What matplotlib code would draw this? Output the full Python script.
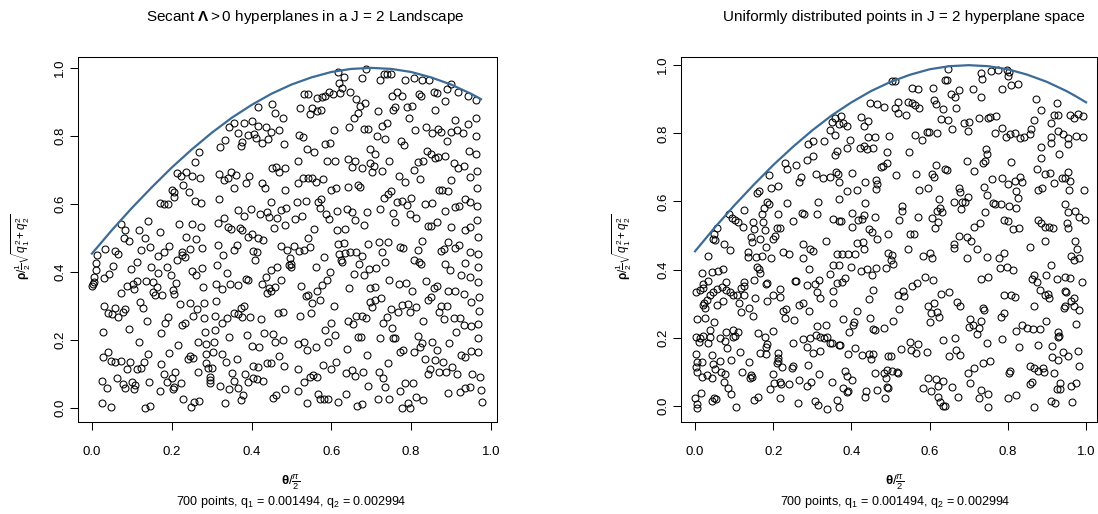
import numpy as np
import matplotlib
matplotlib.use("Agg")
import matplotlib.pyplot as plt

# -------------------------------------------------
# Data (theta/(pi/2), rho/(sqrt(q1^2+q2^2)/2))
# -------------------------------------------------
curve_x = [0.0, 0.05, 0.1, 0.15, 0.2, 0.25, 0.3, 0.35, 0.4, 0.45, 0.5,
           0.55, 0.6, 0.65, 0.7, 0.75, 0.8, 0.85, 0.9, 0.95, 0.975, 1.0]
curve_y = [0.454, 0.523, 0.588, 0.649, 0.707, 0.760, 0.809, 0.853, 0.891, 0.924, 0.951,
           0.972, 0.988, 0.997, 1.0, 0.997, 0.988, 0.972, 0.951, 0.924, 0.908, 0.891]
left_curve_end = 0.975

# left panel: secant hyperplanes
left_upper_a = [
    (0.417,0.886),(0.452,0.893),(0.459,0.867),(0.480,0.854),(0.357,0.837),(0.343,0.825),
    (0.382,0.839),(0.402,0.845),(0.415,0.830),(0.435,0.825),(0.469,0.818),(0.449,0.811),
    (0.367,0.808),(0.390,0.803),(0.407,0.806),(0.411,0.793),(0.427,0.778),(0.440,0.791),
    (0.377,0.781),(0.373,0.769),(0.333,0.788),(0.321,0.766),(0.482,0.775),(0.269,0.753),
    (0.258,0.723),(0.213,0.690),(0.235,0.695),(0.223,0.683),(0.250,0.683),(0.272,0.675),
    (0.318,0.688),(0.348,0.693),(0.332,0.671),(0.342,0.675),(0.362,0.685),(0.393,0.682),
    (0.385,0.661),(0.355,0.648),(0.425,0.662),(0.434,0.648),(0.452,0.707),(0.461,0.709),
    (0.469,0.695),(0.484,0.705),(0.229,0.656),(0.201,0.641),(0.206,0.636),(0.243,0.634),
    (0.205,0.620),(0.170,0.604),(0.181,0.600),(0.190,0.599),(0.258,0.609),(0.273,0.602),
    (0.318,0.615),(0.484,0.641),(0.449,0.607),(0.367,0.582),(0.398,0.585),(0.382,0.566),
    (0.421,0.570),(0.438,0.577),(0.444,0.561),(0.463,0.558),(0.474,0.582),(0.487,0.587),
    (0.141,0.550),(0.074,0.540),(0.084,0.524),(0.118,0.524),(0.170,0.519),(0.219,0.540),
    (0.250,0.540),(0.273,0.533),(0.317,0.545),(0.330,0.558),(0.340,0.533),(0.348,0.526),
    (0.370,0.528),(0.377,0.522),(0.400,0.512),(0.456,0.528),(0.485,0.538),
]
left_upper_b = [
    (0.617,0.989),(0.632,0.973),(0.687,0.997),(0.678,0.970),(0.731,0.982),(0.740,0.982),
    (0.749,0.982),(0.722,0.963),(0.784,0.963),(0.808,0.970),(0.826,0.963),(0.845,0.965),
    (0.899,0.952),(0.891,0.938),(0.918,0.930),(0.942,0.916),(0.962,0.906),(0.532,0.924),
    (0.541,0.923),(0.563,0.911),(0.576,0.914),(0.584,0.916),(0.594,0.930),(0.605,0.923),
    (0.619,0.955),(0.627,0.940),(0.621,0.925),(0.647,0.928),(0.663,0.908),(0.673,0.889),
    (0.684,0.898),(0.751,0.916),(0.765,0.928),(0.776,0.916),(0.820,0.923),(0.824,0.918),
    (0.857,0.930),(0.864,0.925),(0.885,0.904),(0.521,0.883),(0.552,0.883),(0.547,0.864),
    (0.565,0.874),(0.573,0.875),(0.656,0.854),(0.668,0.867),(0.718,0.872),(0.754,0.876),
    (0.759,0.884),(0.789,0.886),(0.801,0.889),(0.795,0.852),(0.860,0.875),(0.910,0.847),
    (0.943,0.834),(0.962,0.852),(0.606,0.818),(0.644,0.825),(0.681,0.821),(0.693,0.821),
    (0.726,0.829),(0.739,0.837),(0.715,0.800),(0.734,0.790),(0.810,0.818),(0.836,0.827),
    (0.851,0.808),(0.868,0.821),(0.876,0.811),(0.900,0.811),(0.916,0.816),(0.931,0.810),
    (0.963,0.800),(0.891,0.786),(0.519,0.803),(0.530,0.798),(0.775,0.785),(0.781,0.772),
    (0.538,0.762),(0.557,0.752),(0.584,0.775),(0.596,0.778),(0.697,0.761),(0.709,0.747),
    (0.840,0.756),(0.849,0.748),(0.860,0.734),(0.868,0.739),(0.886,0.742),(0.945,0.757),
    (0.963,0.748),(0.517,0.727),(0.590,0.727),(0.609,0.726),(0.642,0.731),(0.659,0.725),
    (0.652,0.710),(0.678,0.705),(0.697,0.720),(0.708,0.712),(0.703,0.695),(0.726,0.697),
    (0.744,0.725),(0.769,0.683),(0.784,0.666),(0.808,0.700),(0.816,0.723),(0.829,0.726),
    (0.908,0.720),(0.918,0.705),(0.933,0.713),(0.947,0.680),(0.964,0.697),(0.822,0.673),
    (0.517,0.663),(0.530,0.677),(0.542,0.677),(0.551,0.677),(0.561,0.666),(0.580,0.673),
    (0.599,0.641),(0.612,0.646),(0.641,0.650),(0.666,0.656),(0.672,0.650),(0.870,0.640),
    (0.878,0.640),(0.893,0.638),(0.901,0.671),(0.965,0.648),(0.514,0.606),(0.537,0.609),
    (0.566,0.607),(0.574,0.614),(0.571,0.589),(0.587,0.570),(0.613,0.579),(0.638,0.584),
    (0.651,0.577),(0.689,0.575),(0.722,0.584),(0.732,0.617),(0.741,0.628),(0.749,0.638),
    (0.765,0.607),(0.778,0.610),(0.800,0.617),(0.790,0.597),(0.835,0.600),(0.851,0.604),
    (0.886,0.580),(0.910,0.592),(0.920,0.594),(0.935,0.615),(0.947,0.607),(0.964,0.595),
    (0.510,0.555),(0.527,0.565),(0.556,0.526),(0.593,0.556),(0.659,0.553),(0.681,0.538),
    (0.613,0.524),(0.634,0.527),(0.755,0.573),(0.759,0.548),(0.797,0.570),(0.812,0.558),
    (0.841,0.536),(0.849,0.536),(0.864,0.548),(0.901,0.533),(0.935,0.524),(0.948,0.532),
    (0.964,0.553),
]
left_lower_a = [
    (0.081,0.499),(0.094,0.491),(0.133,0.501),(0.237,0.504),(0.262,0.497),(0.392,0.504),
    (0.417,0.499),(0.429,0.494),(0.033,0.468),(0.059,0.462),(0.066,0.452),(0.124,0.465),
    (0.145,0.472),(0.166,0.448),(0.181,0.460),(0.194,0.475),(0.225,0.460),(0.246,0.468),
    (0.277,0.470),(0.212,0.435),(0.226,0.450),(0.233,0.445),(0.315,0.479),(0.329,0.450),
    (0.363,0.479),(0.357,0.465),(0.404,0.462),(0.413,0.460),(0.409,0.435),(0.474,0.475),
    (0.490,0.465),(0.012,0.450),(0.009,0.425),(0.009,0.406),(0.006,0.386),(0.004,0.372),
    (0.001,0.360),(0.003,0.364),(0.031,0.383),(0.043,0.393),(0.052,0.419),(0.098,0.409),
    (0.114,0.430),(0.148,0.414),(0.187,0.415),(0.166,0.396),(0.198,0.391),(0.251,0.404),
    (0.277,0.411),(0.262,0.391),(0.314,0.421),(0.338,0.396),(0.385,0.378),(0.392,0.376),
    (0.450,0.406),(0.464,0.416),(0.435,0.386),(0.495,0.421),(0.089,0.360),(0.102,0.364),
    (0.112,0.374),(0.106,0.350),(0.135,0.374),(0.152,0.372),(0.162,0.357),(0.152,0.342),
    (0.158,0.332),(0.176,0.332),(0.204,0.347),(0.206,0.334),(0.211,0.367),(0.072,0.337),
    (0.279,0.357),(0.312,0.365),(0.327,0.350),(0.346,0.365),(0.365,0.362),(0.425,0.364),
    (0.444,0.352),(0.439,0.337),(0.459,0.357),(0.475,0.376),(0.450,0.344),(0.030,0.301),
    (0.041,0.278),(0.051,0.277),(0.059,0.295),(0.066,0.269),(0.077,0.283),(0.084,0.291),
    (0.121,0.313),(0.129,0.293),(0.137,0.256),(0.191,0.269),(0.183,0.249),(0.221,0.305),
    (0.245,0.308),(0.263,0.291),(0.281,0.308),(0.312,0.316),(0.254,0.272),(0.281,0.264),
    (0.308,0.271),(0.325,0.249),(0.338,0.266),(0.357,0.280),(0.367,0.276),(0.373,0.293),
    (0.382,0.300),(0.375,0.269),(0.396,0.269),(0.423,0.261),(0.467,0.280),(0.480,0.283),
    (0.028,0.223),(0.093,0.231),(0.118,0.195),(0.173,0.222),(0.225,0.244),(0.233,0.249),
    (0.283,0.225),(0.308,0.229),(0.344,0.208),(0.388,0.215),(0.432,0.222),(0.453,0.217),
    (0.460,0.195),(0.480,0.200),(0.266,0.195),(0.285,0.187),(0.307,0.193),(0.216,0.185),
    (0.400,0.183),(0.419,0.178),(0.041,0.166),(0.027,0.149),(0.049,0.138),(0.059,0.136),
    (0.072,0.138),(0.095,0.136),(0.087,0.115),(0.112,0.115),(0.124,0.119),(0.131,0.136),
    (0.141,0.158),(0.173,0.129),(0.194,0.161),(0.181,0.099),(0.208,0.105),(0.246,0.154),
    (0.241,0.144),(0.254,0.146),(0.285,0.159),(0.286,0.131),(0.304,0.164),(0.325,0.158),
    (0.336,0.136),(0.292,0.117),(0.300,0.117),(0.266,0.107),(0.364,0.144),(0.404,0.125),
    (0.415,0.122),(0.438,0.131),(0.448,0.131),(0.470,0.154),(0.482,0.125),(0.352,0.104),
    (0.383,0.099),(0.024,0.079),(0.038,0.058),(0.064,0.087),(0.077,0.070),(0.083,0.060),
    (0.101,0.077),(0.108,0.068),(0.106,0.056),(0.143,0.076),(0.170,0.050),(0.187,0.077),
    (0.200,0.089),(0.223,0.073),(0.206,0.061),(0.202,0.056),(0.295,0.092),(0.295,0.082),
    (0.295,0.075),(0.322,0.066),(0.343,0.056),(0.357,0.080),(0.367,0.060),(0.392,0.077),
    (0.404,0.087),(0.413,0.085),(0.428,0.079),(0.461,0.038),(0.454,0.031),(0.484,0.056),
    (0.024,0.014),(0.048,0.003),(0.133,0.000),(0.146,0.007),(0.227,0.026),(0.248,0.004),
    (0.256,0.019),(0.268,0.021),(0.333,0.014),(0.373,0.024),(0.378,0.038),
]
left_lower_b = [
    (0.542,0.501),(0.507,0.475),(0.519,0.462),(0.532,0.465),(0.546,0.472),(0.496,0.440),
    (0.500,0.423),(0.499,0.414),(0.561,0.416),(0.582,0.445),(0.617,0.481),(0.632,0.484),
    (0.620,0.452),(0.634,0.455),(0.624,0.435),(0.627,0.428),(0.647,0.458),(0.663,0.458),
    (0.676,0.448),(0.691,0.481),(0.719,0.487),(0.728,0.460),(0.741,0.487),(0.772,0.472),
    (0.780,0.470),(0.816,0.465),(0.828,0.491),(0.875,0.462),(0.883,0.468),(0.893,0.487),
    (0.910,0.470),(0.920,0.479),(0.947,0.458),(0.968,0.452),(0.968,0.504),(0.808,0.435),
    (0.820,0.430),(0.825,0.423),(0.734,0.428),(0.713,0.413),(0.694,0.408),(0.683,0.391),
    (0.669,0.423),(0.656,0.393),(0.596,0.401),(0.885,0.423),(0.897,0.406),(0.935,0.425),
    (0.968,0.416),(0.947,0.386),(0.968,0.372),(0.926,0.391),(0.524,0.360),(0.536,0.330),
    (0.542,0.332),(0.552,0.308),(0.565,0.344),(0.571,0.318),(0.577,0.362),(0.588,0.376),
    (0.607,0.301),(0.645,0.352),(0.697,0.352),(0.709,0.355),(0.744,0.376),(0.769,0.364),
    (0.786,0.369),(0.803,0.344),(0.836,0.374),(0.858,0.352),(0.866,0.360),(0.843,0.318),
    (0.849,0.327),(0.893,0.344),(0.910,0.345),(0.933,0.334),(0.950,0.311),(0.970,0.327),
    (0.876,0.301),(0.697,0.313),(0.709,0.318),(0.703,0.296),(0.724,0.323),(0.521,0.271),
    (0.548,0.278),(0.584,0.229),(0.599,0.249),(0.609,0.215),(0.642,0.256),(0.653,0.246),
    (0.661,0.271),(0.678,0.272),(0.686,0.264),(0.730,0.249),(0.739,0.269),(0.749,0.291),
    (0.751,0.234),(0.768,0.283),(0.778,0.303),(0.791,0.305),(0.797,0.283),(0.811,0.298),
    (0.830,0.256),(0.870,0.281),(0.883,0.262),(0.889,0.301),(0.908,0.264),(0.922,0.264),
    (0.932,0.244),(0.949,0.242),(0.968,0.246),(0.971,0.285),(0.912,0.223),(0.755,0.207),
    (0.759,0.207),(0.517,0.187),(0.532,0.193),(0.540,0.171),(0.561,0.180),(0.591,0.193),
    (0.640,0.173),(0.666,0.208),(0.674,0.208),(0.689,0.156),(0.722,0.205),(0.741,0.133),
    (0.772,0.164),(0.780,0.171),(0.807,0.166),(0.816,0.213),(0.826,0.190),(0.822,0.180),
    (0.851,0.193),(0.866,0.171),(0.895,0.190),(0.924,0.156),(0.935,0.151),(0.949,0.168),
    (0.968,0.166),(0.968,0.207),(0.517,0.115),(0.531,0.077),(0.546,0.092),(0.555,0.097),
    (0.563,0.092),(0.580,0.126),(0.599,0.115),(0.612,0.134),(0.637,0.102),(0.651,0.112),
    (0.659,0.095),(0.680,0.107),(0.691,0.066),(0.720,0.105),(0.729,0.087),(0.734,0.063),
    (0.772,0.050),(0.784,0.075),(0.804,0.073),(0.835,0.144),(0.843,0.099),(0.847,0.114),
    (0.860,0.141),(0.870,0.105),(0.881,0.134),(0.887,0.105),(0.903,0.122),(0.914,0.099),
    (0.952,0.099),(0.973,0.092),(0.974,0.053),(0.935,0.058),(0.922,0.048),(0.893,0.043),
    (0.516,0.050),(0.538,0.016),(0.566,0.040),(0.571,0.028),(0.582,0.028),(0.592,0.026),
    (0.616,0.017),(0.636,0.040),(0.664,0.006),(0.676,0.011),(0.716,0.026),(0.745,0.026),
    (0.778,0.000),(0.793,0.016),(0.797,0.000),(0.811,0.033),(0.830,0.024),(0.947,0.063),
    (0.977,0.019),
]

# right panel: uniformly distributed points
right_upper_a = [
    (0.448,0.888),(0.466,0.886),(0.483,0.878),(0.358,0.846),(0.373,0.851),(0.350,0.832),
    (0.369,0.826),(0.378,0.829),(0.388,0.822),(0.425,0.848),(0.443,0.837),(0.431,0.822),
    (0.344,0.809),(0.359,0.795),(0.395,0.780),(0.443,0.790),(0.460,0.788),(0.496,0.792),
    (0.290,0.770),(0.301,0.777),(0.331,0.778),(0.362,0.748),(0.358,0.736),(0.388,0.758),
    (0.422,0.758),(0.433,0.762),(0.439,0.753),(0.456,0.758),(0.490,0.746),(0.286,0.721),
    (0.301,0.733),(0.230,0.712),(0.234,0.695),(0.257,0.707),(0.475,0.700),(0.480,0.704),
    (0.490,0.712),(0.188,0.679),(0.270,0.673),(0.266,0.658),(0.309,0.680),(0.327,0.670),
    (0.344,0.673),(0.361,0.687),(0.365,0.680),(0.367,0.658),(0.401,0.684),(0.435,0.658),
    (0.463,0.663),(0.465,0.650),(0.463,0.636),(0.194,0.640),(0.211,0.645),(0.164,0.630),
    (0.159,0.626),(0.388,0.630),(0.413,0.633),(0.185,0.599),(0.188,0.594),(0.236,0.597),
    (0.315,0.599),(0.367,0.606),(0.435,0.596),(0.088,0.562),(0.094,0.552),(0.126,0.575),
    (0.176,0.580),(0.171,0.562),(0.211,0.563),(0.147,0.541),(0.151,0.519),(0.122,0.524),
    (0.173,0.539),(0.179,0.516),(0.209,0.523),(0.217,0.521),(0.250,0.544),(0.273,0.567),
    (0.279,0.562),(0.311,0.562),(0.352,0.550),(0.367,0.544),(0.373,0.544),(0.401,0.567),
    (0.418,0.545),(0.428,0.550),(0.433,0.560),(0.460,0.555),(0.401,0.524),(0.445,0.519),
    (0.452,0.511),(0.494,0.504),(0.057,0.521),(0.049,0.506),(0.102,0.545),(0.111,0.541),
]
right_upper_b = [
    (0.646,0.988),(0.638,0.956),(0.644,0.956),(0.731,0.978),(0.733,0.958),(0.757,0.982),
    (0.774,0.985),(0.798,0.985),(0.803,0.980),(0.801,0.969),(0.807,0.943),(0.827,0.946),
    (0.784,0.930),(0.712,0.930),(0.731,0.907),(0.503,0.953),(0.512,0.953),(0.556,0.934),
    (0.571,0.929),(0.608,0.934),(0.655,0.914),(0.665,0.907),(0.675,0.927),(0.612,0.897),
    (0.616,0.885),(0.520,0.891),(0.544,0.892),(0.554,0.888),(0.563,0.883),(0.573,0.875),
    (0.512,0.873),(0.518,0.861),(0.539,0.853),(0.633,0.871),(0.667,0.875),(0.871,0.902),
    (0.885,0.868),(0.925,0.890),(0.919,0.855),(0.928,0.855),(0.959,0.855),(0.970,0.846),
    (0.980,0.858),(0.993,0.850),(0.629,0.841),(0.646,0.839),(0.656,0.812),(0.689,0.831),
    (0.701,0.834),(0.697,0.806),(0.725,0.844),(0.750,0.846),(0.754,0.847),(0.770,0.851),
    (0.767,0.800),(0.784,0.817),(0.795,0.790),(0.806,0.797),(0.818,0.802),(0.831,0.785),
    (0.842,0.790),(0.857,0.797),(0.858,0.812),(0.867,0.839),(0.910,0.829),(0.910,0.790),
    (0.910,0.773),(0.929,0.806),(0.942,0.797),(0.955,0.787),(0.953,0.770),(0.974,0.792),
    (0.993,0.790),(0.563,0.795),(0.581,0.780),(0.592,0.803),(0.598,0.803),(0.618,0.800),
    (0.548,0.744),(0.885,0.760),(0.885,0.729),(0.931,0.738),(0.744,0.754),(0.746,0.739),
    (0.736,0.714),(0.742,0.718),(0.695,0.718),(0.714,0.690),(0.807,0.717),(0.759,0.665),
    (0.786,0.670),(0.800,0.650),(0.818,0.661),(0.831,0.671),(0.837,0.656),(0.874,0.694),
    (0.894,0.680),(0.908,0.685),(0.946,0.670),(0.955,0.687),(0.616,0.707),(0.605,0.682),
    (0.612,0.673),(0.639,0.695),(0.645,0.692),(0.565,0.682),(0.514,0.679),(0.573,0.633),
    (0.597,0.641),(0.675,0.640),(0.678,0.629),(0.699,0.614),(0.691,0.599),(0.682,0.599),
    (0.661,0.599),(0.624,0.606),(0.627,0.580),(0.680,0.578),(0.740,0.643),(0.746,0.619),
    (0.763,0.596),(0.767,0.592),(0.783,0.594),(0.803,0.587),(0.820,0.582),(0.820,0.631),
    (0.827,0.609),(0.878,0.635),(0.887,0.640),(0.917,0.655),(0.938,0.668),(0.959,0.660),
    (0.957,0.633),(0.996,0.633),(0.945,0.592),(0.953,0.570),(0.972,0.572),(0.982,0.555),
    (0.997,0.547),(0.529,0.587),(0.529,0.572),(0.522,0.545),(0.569,0.555),(0.605,0.553),
    (0.618,0.572),(0.622,0.541),(0.631,0.570),(0.614,0.521),(0.550,0.506),(0.561,0.506),
    (0.714,0.524),(0.729,0.538),(0.742,0.568),(0.789,0.545),(0.801,0.543),(0.814,0.519),
    (0.829,0.523),(0.878,0.545),(0.885,0.536),(0.894,0.526),(0.905,0.524),(0.916,0.521),
    (0.951,0.536),(0.955,0.523),
]
right_lower_a = [
    (0.045,0.490),(0.051,0.487),(0.074,0.474),(0.090,0.457),(0.032,0.441),(0.143,0.497),
    (0.145,0.480),(0.165,0.490),(0.182,0.467),(0.200,0.490),(0.205,0.499),(0.224,0.451),
    (0.241,0.445),(0.277,0.474),(0.294,0.462),(0.301,0.455),(0.334,0.484),(0.277,0.433),
    (0.292,0.402),(0.362,0.445),(0.375,0.445),(0.390,0.445),(0.409,0.445),(0.413,0.477),
    (0.429,0.480),(0.433,0.460),(0.466,0.490),(0.494,0.448),(0.503,0.443),(0.500,0.428),
    (0.135,0.453),(0.136,0.438),(0.156,0.438),(0.171,0.441),(0.194,0.433),(0.018,0.389),
    (0.044,0.394),(0.058,0.396),(0.071,0.402),(0.034,0.367),(0.020,0.357),(0.079,0.365),
    (0.159,0.409),(0.164,0.401),(0.167,0.391),(0.151,0.370),(0.126,0.365),(0.182,0.357),
    (0.185,0.360),(0.256,0.368),(0.258,0.367),(0.286,0.355),(0.307,0.357),(0.318,0.371),
    (0.345,0.386),(0.352,0.415),(0.367,0.415),(0.362,0.360),(0.375,0.363),(0.384,0.376),
    (0.398,0.409),(0.425,0.396),(0.439,0.401),(0.452,0.384),(0.463,0.406),(0.488,0.404),
    (0.507,0.418),(0.003,0.335),(0.013,0.340),(0.020,0.347),(0.037,0.327),(0.045,0.335),
    (0.055,0.343),(0.068,0.348),(0.079,0.340),(0.090,0.335),(0.098,0.327),(0.107,0.326),
    (0.117,0.345),(0.124,0.353),(0.124,0.327),(0.023,0.301),(0.030,0.311),(0.020,0.296),
    (0.026,0.288),(0.057,0.296),(0.071,0.308),(0.113,0.301),(0.139,0.288),(0.153,0.318),
    (0.185,0.308),(0.199,0.327),(0.217,0.343),(0.217,0.321),(0.267,0.296),(0.275,0.301),
    (0.292,0.279),(0.311,0.335),(0.320,0.316),(0.354,0.337),(0.352,0.303),(0.454,0.340),
    (0.446,0.314),(0.006,0.254),(0.026,0.259),(0.049,0.247),(0.037,0.223),(0.118,0.277),
    (0.147,0.265),(0.226,0.279),(0.233,0.284),(0.230,0.257),(0.253,0.252),(0.313,0.236),
    (0.334,0.238),(0.378,0.255),(0.403,0.239),(0.407,0.245),(0.413,0.279),(0.394,0.218),
    (0.448,0.259),(0.454,0.226),(0.459,0.223),(0.482,0.228),(0.506,0.249),(0.160,0.213),
    (0.179,0.203),(0.200,0.221),(0.079,0.218),(0.098,0.223),(0.111,0.218),(0.102,0.206),
    (0.003,0.203),(0.013,0.198),(0.021,0.206),(0.037,0.203),(0.011,0.187),(0.034,0.184),
    (0.064,0.200),(0.077,0.191),(0.081,0.171),(0.098,0.203),(0.115,0.157),(0.165,0.154),
    (0.182,0.152),(0.185,0.181),(0.182,0.174),(0.211,0.154),(0.213,0.140),(0.251,0.184),
    (0.277,0.196),(0.294,0.200),(0.287,0.174),(0.301,0.154),(0.309,0.208),(0.320,0.203),
    (0.330,0.198),(0.337,0.203),(0.344,0.184),(0.320,0.161),(0.350,0.184),(0.367,0.179),
    (0.371,0.179),(0.390,0.152),(0.409,0.169),(0.426,0.150),(0.446,0.152),(0.454,0.152),
    (0.450,0.138),(0.494,0.148),(0.500,0.148),(0.003,0.152),(0.004,0.130),(0.017,0.130),
    (0.003,0.115),(0.006,0.101),(0.017,0.086),(0.030,0.091),(0.043,0.150),(0.047,0.122),
    (0.051,0.109),(0.064,0.132),(0.067,0.101),(0.077,0.093),(0.043,0.081),(0.075,0.071),
    (0.084,0.052),(0.092,0.135),(0.120,0.101),(0.139,0.130),(0.142,0.091),(0.141,0.081),
    (0.145,0.086),(0.200,0.093),(0.209,0.125),(0.213,0.132),(0.222,0.113),(0.203,0.066),
    (0.216,0.071),(0.219,0.064),(0.192,0.050),(0.239,0.064),(0.251,0.117),(0.247,0.110),
    (0.265,0.076),(0.290,0.120),(0.296,0.071),(0.287,0.060),(0.318,0.093),(0.350,0.071),
    (0.384,0.103),(0.388,0.089),(0.402,0.076),(0.378,0.052),(0.390,0.044),(0.437,0.044),
    (0.459,0.096),(0.466,0.047),(0.483,0.096),(0.488,0.081),(0.490,0.057),(0.494,0.052),
    (0.492,0.106),(0.503,0.103),(0.000,0.024),(0.006,0.005),(0.004,-0.005),(0.014,0.037),
    (0.044,0.016),(0.049,0.022),(0.054,0.020),(0.091,0.034),(0.105,-0.002),(0.152,0.018),
    (0.162,0.027),(0.216,0.024),(0.264,0.008),(0.307,0.016),(0.315,0.003),(0.337,-0.009),
    (0.362,0.018),(0.369,-0.002),(0.388,0.040),(0.435,0.027),(0.486,0.022),
]
right_lower_b = [
    (0.544,0.460),(0.601,0.448),(0.584,0.440),(0.605,0.435),(0.661,0.474),(0.661,0.464),
    (0.675,0.499),(0.695,0.497),(0.706,0.484),(0.720,0.462),(0.695,0.433),(0.746,0.438),
    (0.778,0.435),(0.790,0.448),(0.780,0.404),(0.797,0.407),(0.812,0.399),(0.731,0.374),
    (0.750,0.377),(0.857,0.467),(0.895,0.484),(0.910,0.413),(0.898,0.384),(0.861,0.372),
    (0.868,0.384),(0.874,0.365),(0.925,0.374),(0.946,0.379),(0.959,0.376),(0.989,0.363),
    (0.972,0.484),(0.976,0.462),(0.962,0.441),(0.970,0.428),(0.983,0.435),(0.587,0.379),
    (0.608,0.371),(0.567,0.362),(0.554,0.353),(0.533,0.337),(0.520,0.326),(0.534,0.323),
    (0.522,0.284),(0.597,0.294),(0.610,0.301),(0.604,0.272),(0.620,0.277),(0.624,0.260),
    (0.601,0.245),(0.629,0.328),(0.650,0.335),(0.669,0.306),(0.678,0.294),(0.737,0.288),
    (0.740,0.282),(0.791,0.327),(0.807,0.326),(0.818,0.320),(0.789,0.272),(0.783,0.262),
    (0.868,0.293),(0.881,0.340),(0.895,0.327),(0.903,0.330),(0.905,0.318),(0.946,0.337),
    (0.949,0.333),(0.946,0.294),(0.944,0.288),(0.961,0.308),(0.970,0.318),(0.970,0.293),
    (0.983,0.282),(0.974,0.242),(0.703,0.255),(0.712,0.239),(0.701,0.233),(0.727,0.230),
    (0.731,0.249),(0.720,0.211),(0.835,0.239),(0.850,0.230),(0.864,0.225),(0.882,0.225),
    (0.822,0.221),(0.897,0.249),(0.929,0.218),(0.931,0.206),(0.927,0.201),(0.746,0.184),
    (0.786,0.196),(0.829,0.172),(0.876,0.179),(0.914,0.177),(0.942,0.159),(0.953,0.148),
    (0.979,0.161),(0.635,0.194),(0.665,0.198),(0.527,0.167),(0.550,0.187),(0.553,0.164),
    (0.569,0.182),(0.565,0.154),(0.592,0.157),(0.650,0.148),(0.667,0.164),(0.678,0.150),
    (0.714,0.112),(0.736,0.125),(0.755,0.133),(0.699,0.096),(0.806,0.103),(0.804,0.096),
    (0.857,0.117),(0.868,0.112),(0.878,0.103),(0.891,0.112),(0.893,0.101),(0.918,0.096),
    (0.914,0.145),(0.929,0.135),(0.983,0.118),(0.516,0.101),(0.518,0.096),(0.597,0.083),
    (0.604,0.044),(0.616,0.078),(0.621,0.060),(0.633,0.074),(0.582,0.052),(0.656,0.057),
    (0.672,0.027),(0.703,0.066),(0.731,0.047),(0.727,0.024),(0.749,0.034),(0.749,-0.002),
    (0.800,0.022),(0.820,0.032),(0.857,0.065),(0.861,0.069),(0.934,0.066),(0.934,0.049),
    (0.925,0.049),(0.962,0.059),(0.974,0.066),(0.910,0.016),(0.921,0.010),(0.963,0.011),
    (0.868,-0.002),(0.622,0.025),(0.627,0.013),(0.635,0.001),(0.640,0.001),
]

x_ticks = [0.0, 0.2, 0.4, 0.6, 0.8, 1.0]
tick_labels = ["0.0", "0.2", "0.4", "0.6", "0.8", "1.0"]

titles = [r"Secant $\mathbf{\Lambda} > 0$ hyperplanes in a J = 2 Landscape",
          r"Uniformly distributed points in J = 2 hyperplane space"]
subtitle = r"700 points, q$_1$ = 0.001494, q$_2$ = 0.002994"
x_label = r"$\mathbf{\theta}/\frac{\pi}{2}$"
y_label = r"$\mathbf{\rho}/\frac{1}{2}\sqrt{q_1^2+q_2^2}$"

# -------------------------------------------------
# Fonts
# -------------------------------------------------
plt.rcParams['font.family'] = ['Liberation Sans', 'DejaVu Sans']
plt.rcParams['mathtext.fontset'] = 'custom'
plt.rcParams['mathtext.rm'] = 'Liberation Sans'
plt.rcParams['mathtext.it'] = 'Liberation Sans:italic'
plt.rcParams['mathtext.bf'] = 'Liberation Sans:bold'


def draw_panel(ax, groups, curve_end, xlim, ylim):

    pts = np.array([p for g in groups for p in g])

    ax.plot(pts[:, 0], pts[:, 1], linestyle='none', marker='o',
            markersize=5.0, markerfacecolor='none',
            markeredgecolor='black', markeredgewidth=0.75)

    cx = np.array(curve_x)
    cy = np.array(curve_y)
    keep = cx <= curve_end + 1e-9
    ax.plot(cx[keep], cy[keep], color='#3b6b96', linewidth=1.6)

    ax.set_xlim(*xlim)
    ax.set_ylim(*ylim)

    ax.set_xticks(x_ticks)
    ax.set_xticklabels(tick_labels)
    ax.set_yticks(x_ticks)
    ax.set_yticklabels(tick_labels, rotation=90, va='center')

    ax.tick_params(direction='out', length=5.5, width=0.75,
                   labelsize=9.5, colors='black')
    ax.tick_params(axis='x', pad=12)
    ax.tick_params(axis='y', pad=3)

    for s in ax.spines.values():
        s.set_linewidth(0.75)
        s.set_color('black')


def main():

    fig = plt.figure(figsize=(10.98, 5.14), dpi=100)

    ax1 = fig.add_axes([0.0710, 0.1790, 0.3816, 0.7101])
    ax2 = fig.add_axes([0.6202, 0.1790, 0.3789, 0.7101])

    draw_panel(ax1, [left_upper_a, left_upper_b, left_lower_a, left_lower_b],
               left_curve_end, (-0.035, 1.015), (-0.041, 1.032))
    draw_panel(ax2, [right_upper_a, right_upper_b, right_lower_a, right_lower_b],
               1.0, (-0.036, 1.028), (-0.047, 1.024))

    # titles, axis labels, subtitles
    fig.text(0.278, 0.966, titles[0], ha='center', va='center', fontsize=11)
    fig.text(0.823, 0.966, titles[1], ha='center', va='center', fontsize=11)

    for xc in (0.265, 0.815):
        fig.text(xc, 0.061, x_label, ha='center', va='center', fontsize=9.5)
        fig.text(xc, 0.024, subtitle, ha='center', va='center', fontsize=9)

    fig.text(0.019, 0.52, y_label, ha='center', va='center',
             rotation=90, fontsize=8.5)
    fig.text(0.567, 0.52, y_label, ha='center', va='center',
             rotation=90, fontsize=8.5)

    fig.savefig("out.png", dpi=100)


if __name__ == "__main__":
    main()
